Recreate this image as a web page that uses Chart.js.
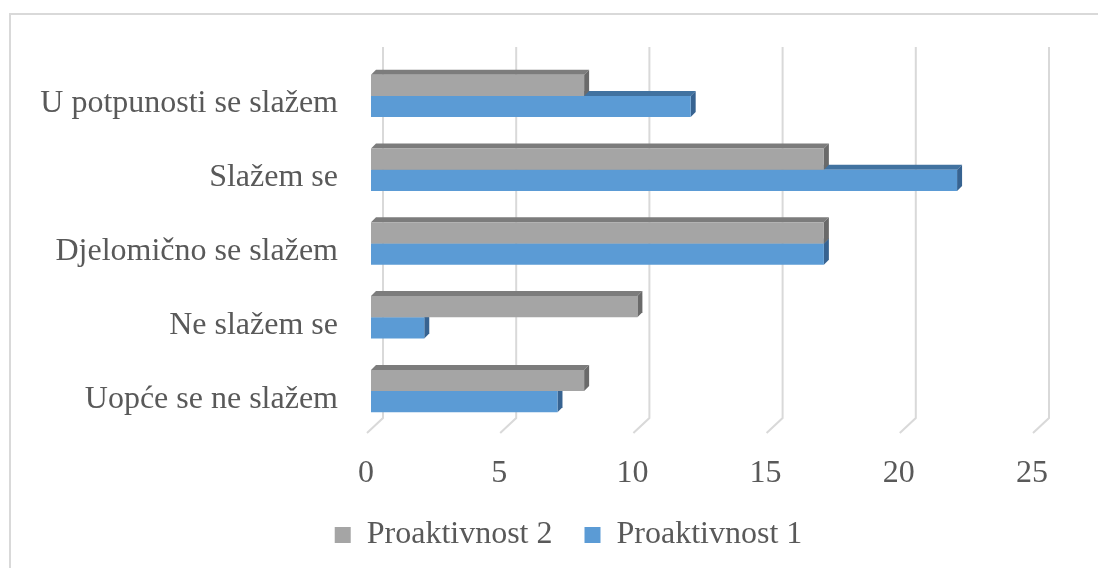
<!DOCTYPE html>
<html>
<head>
<meta charset="utf-8">
<script src="https://cdn.jsdelivr.net/npm/chart.js@4"></script>
<style>
  html, body { margin: 0; padding: 0; background: #fff; }
</style>
</head>
<body>
<canvas id="chart" width="1098" height="568"></canvas>
<script>
const categories = [
  "U potpunosti se slažem",
  "Slažem se",
  "Djelomično se slažem",
  "Ne slažem se",
  "Uopće se ne slažem"
];
const proaktivnost2 = [8, 17, 17, 10, 8];
const proaktivnost1 = [12, 22, 17, 2, 7];
const xTicks = [0, 5, 10, 15, 20, 25];

const textColor = "#595959";
const fontFamily = "'Liberation Serif', 'Times New Roman', serif";
const depth = 5;

// back wall grid lines with the slanted floor part
const wallGrid = {
  id: "wallGrid",
  beforeDatasetsDraw(chart) {
    const ctx = chart.ctx;
    const xs = chart.scales.x;
    const area = chart.chartArea;
    ctx.save();
    ctx.strokeStyle = "#d9d9d9";
    ctx.lineWidth = 2;
    xTicks.forEach(v => {
      const x = xs.getPixelForValue(v);
      ctx.beginPath();
      ctx.moveTo(x + 12, area.top - 12);
      ctx.lineTo(x + 12, area.bottom - 10);
      ctx.lineTo(x - 4, area.bottom + 5);
      ctx.stroke();
    });
    ctx.restore();
  }
};

// top and side faces of the bars
const bars3d = {
  id: "bars3d",
  beforeDatasetsDraw(chart) {
    const ctx = chart.ctx;
    ctx.save();
    [1, 0].forEach(di => {
      const ds = chart.data.datasets[di];
      chart.getDatasetMeta(di).data.forEach(bar => {
        const left = bar.base, right = bar.x;
        const top = bar.y - bar.height / 2, bottom = bar.y + bar.height / 2;
        ctx.fillStyle = ds.topColor;
        ctx.beginPath();
        ctx.moveTo(left, top);
        ctx.lineTo(left + depth, top - depth);
        ctx.lineTo(right + depth, top - depth);
        ctx.lineTo(right, top);
        ctx.closePath();
        ctx.fill();
        ctx.fillStyle = ds.sideColor;
        ctx.beginPath();
        ctx.moveTo(right, top);
        ctx.lineTo(right + depth, top - depth);
        ctx.lineTo(right + depth, bottom - depth);
        ctx.lineTo(right, bottom);
        ctx.closePath();
        ctx.fill();
      });
    });
    ctx.restore();
  }
};

const frame = {
  id: "frame",
  beforeDraw(chart) {
    const ctx = chart.ctx;
    ctx.save();
    ctx.fillStyle = "#fff";
    ctx.fillRect(0, 0, chart.width, chart.height);
    ctx.strokeStyle = "#d9d9d9";
    ctx.lineWidth = 2;
    ctx.strokeRect(10, 14, 1200, 700);
    ctx.restore();
  }
};

// nudge the legend to the right so it sits where the original has it
const legendShift = {
  id: "legendShift",
  afterLayout(chart) {
    chart.legend.left += 35;
    chart.legend.right += 35;
  }
};

new Chart(document.getElementById("chart").getContext("2d"), {
  type: "bar",
  data: {
    labels: categories,
    datasets: [
      {
        label: "Proaktivnost 2",
        data: proaktivnost2,
        backgroundColor: "#a5a5a5",
        topColor: "#7c7c7c",
        sideColor: "#6a6a6a",
        borderWidth: 0,
        barPercentage: 1,
        categoryPercentage: 0.574,
      },
      {
        label: "Proaktivnost 1",
        data: proaktivnost1,
        backgroundColor: "#5b9bd5",
        topColor: "#4172a0",
        sideColor: "#376391",
        borderWidth: 0,
        barPercentage: 1,
        categoryPercentage: 0.574,
      },
    ],
  },
  options: {
    responsive: false,
    animation: false,
    indexAxis: "y",
    layout: {
      padding: { left: 30, right: 61, top: 59, bottom: 7 },
    },
    scales: {
      x: {
        min: 0,
        max: 25,
        grid: { display: false, drawTicks: false },
        border: { display: false },
        ticks: {
          stepSize: 5,
          padding: 26,
          labelOffset: -5,
          color: textColor,
          font: { family: fontFamily, size: 32 },
        },
        afterFit(scale) { scale.height = 59; },
      },
      y: {
        grid: { display: false, drawTicks: false },
        border: { display: false },
        ticks: {
          padding: 33,
          labelOffset: 8,
          color: textColor,
          font: { family: fontFamily, size: 32 },
        },
        afterFit(scale) { scale.width = 341; },
      },
    },
    plugins: {
      legend: {
        position: "bottom",
        labels: {
          boxWidth: 16,
          boxHeight: 16,
          padding: 32,
          color: textColor,
          font: { family: fontFamily, size: 32 },
        },
      },
      tooltip: { enabled: false },
    },
  },
  plugins: [frame, wallGrid, bars3d, legendShift],
});
</script>
</body>
</html>
